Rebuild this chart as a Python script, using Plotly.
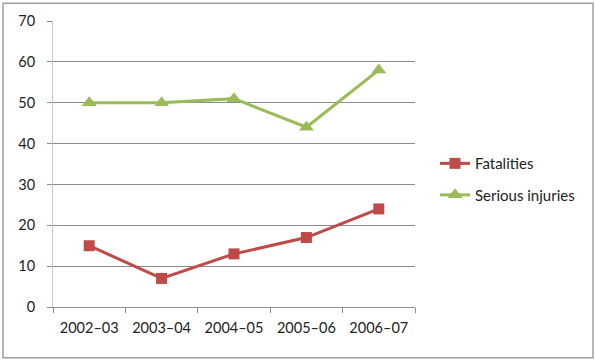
import plotly.graph_objects as go

categories = ["2002\u201303", "2003\u201304", "2004\u201305", "2005\u201306", "2006\u201307"]
fatalities = [15, 7, 13, 17, 24]
serious_injuries = [50, 50, 51, 44, 58]
y_ticks = [0, 10, 20, 30, 40, 50, 60, 70]

FONT = "Lato, 'Open Sans', sans-serif"
RED = "#BE4B48"
GREEN = "#9BBB59"

fig = go.Figure()
fig.add_trace(go.Scatter(
    x=categories, y=fatalities, name="Fatalities", mode="lines+markers",
    line=dict(color=RED, width=3),
    marker=dict(symbol="square", size=11, color=RED),
    legendgroup="a",
))
fig.add_trace(go.Scatter(
    x=categories, y=serious_injuries, name="Serious injuries", mode="lines+markers",
    line=dict(color=GREEN, width=3),
    marker=dict(symbol="triangle-up", size=13, color=GREEN),
    legendgroup="b",
))

L, R, T, B = 53, 180, 19, 53
W, H = 595, 360
pw, ph = W - L - R, H - T - B

def px2x(px):
    return (px - L) / pw

def py2y(py):
    return (H - B - py) / ph

fig.update_layout(
    width=W, height=H,
    margin=dict(l=L, r=R, t=T, b=B, pad=0),
    paper_bgcolor="white", plot_bgcolor="white",
    font=dict(family=FONT, size=14, color="#404040"),
    showlegend=True,
    legend=dict(
        x=px2x(435), y=py2y(146), xanchor="left", yanchor="top",
        font=dict(family=FONT, size=15, color="#222222"),
        traceorder="grouped", tracegroupgap=9,
        bgcolor="rgba(0,0,0,0)",
    ),
    xaxis=dict(
        type="category", showgrid=False, showline=True, linecolor="#8c8c8c", linewidth=1,
        ticks="outside", ticklen=5, tickcolor="#8c8c8c", tickson="boundaries",
        tickfont=dict(family=FONT, size=14.5, color="#222222"),
        range=[-0.5, 4.5], fixedrange=True, ticklabelstandoff=8,
    ),
    yaxis=dict(
        range=[0, 70], tickvals=y_ticks, showgrid=True, gridcolor="#8c8c8c", gridwidth=1,
        showline=True, linecolor="#c8c8c8", linewidth=1,
        ticks="outside", ticklen=5, tickcolor="#8c8c8c",
        tickfont=dict(family=FONT, size=14.5, color="#222222"),
        zeroline=False, fixedrange=True, ticklabelstandoff=9,
    ),
    shapes=[dict(
        type="rect", xref="paper", yref="paper",
        x0=px2x(3), x1=px2x(593), y0=py2y(358), y1=py2y(1),
        line=dict(color="#a0a0a0", width=1.5), fillcolor="rgba(0,0,0,0)", layer="below",
    )],
)

fig.write_html("out.html")
